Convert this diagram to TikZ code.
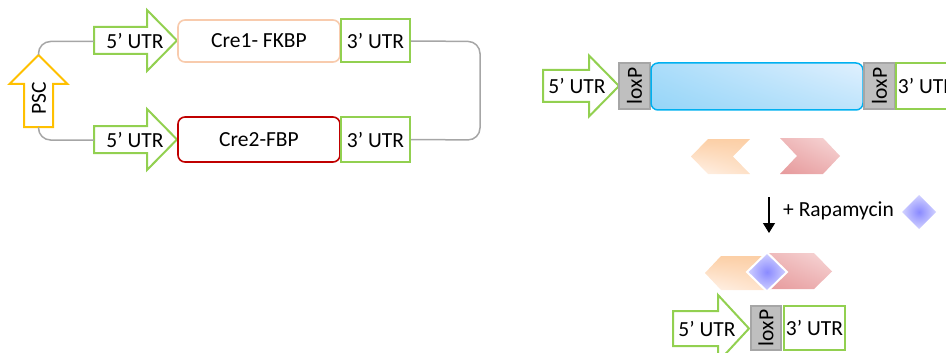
\documentclass[tikz,border=0pt]{standalone}
\usepackage{fontspec}
\setmainfont{Carlito}
\usetikzlibrary{arrows.meta,shadings}
\definecolor{utrgreen}{HTML}{92D050}
\definecolor{pscgold}{HTML}{FFC000}
\definecolor{creone}{HTML}{F8CBAD}
\definecolor{cretwo}{HTML}{C00000}
\definecolor{glinec}{HTML}{A6A6A6}
\definecolor{loxfill}{HTML}{BFBFBF}
\definecolor{loxdraw}{HTML}{A6A6A6}
\definecolor{cdsblue}{HTML}{00B0F0}
\definecolor{cdsdark}{HTML}{95D5F8}
\definecolor{cdslight}{HTML}{E0F0FE}
\definecolor{oradark}{HTML}{FCCFA6}
\definecolor{oralight}{HTML}{FFF3EA}
\definecolor{reddark}{HTML}{E6999B}
\definecolor{redlight}{HTML}{F7D8D8}
\definecolor{diain}{HTML}{8A8AFF}
\definecolor{diaout}{HTML}{D2D2FF}
\begin{document}
\begin{tikzpicture}[x=1pt,y=-1pt,
  font=\fontsize{21.5}{24}\selectfont,
  utr/.style={draw=utrgreen, line width=2pt, fill=white},
  utrbox/.style={draw=utrgreen, line width=2pt, fill=white, inner sep=0pt},
  crebox/.style={line width=1.6pt, rounded corners=7pt, fill=white, inner sep=0pt},
  loxbox/.style={draw=loxdraw, fill=loxfill, line width=1.5pt, inner sep=0pt, minimum width=31pt},
  gline/.style={draw=glinec, line width=1.5pt, rounded corners=12pt},
  plain/.style={inner sep=0pt}]
\useasboundingbox (0,0) rectangle (946,353);
\clip (0,0) rectangle (946,353);

% ---------------- left construct ----------------
% PSC arrow
\draw[draw=pscgold, line width=2pt, fill=white]
  (24,127)--(24,84)--(9.5,84)--(38.5,55)--(67.5,84)--(53,84)--(53,127)--cycle;
\node[plain, rotate=90] (psc) at (39,98) {PSC};
\coordinate (psctip) at (38.5,55);
\coordinate (pscbot) at (38.5,127);

% top 5' UTR
\draw[utr] (94,27)--(147,27)--(147,10)--(177,40.5)--(147,71)--(147,54)--(94,54)--cycle;
\node[plain] (u5a) at (135,41) {5’ UTR};
\coordinate (u5aL) at (94,41.5);
% bottom 5' UTR
\draw[utr] (94,126)--(147,126)--(147,109)--(177,139.5)--(147,170)--(147,153)--(94,153)--cycle;
\node[plain] (u5b) at (135,140) {5’ UTR};
\coordinate (u5bL) at (94,140);

% CDS boxes
\node[crebox, draw=creone, minimum width=162pt, minimum height=42pt] (cre1) at (259,41) {Cre1- FKBP};
\node[crebox, draw=cretwo, minimum width=162pt, minimum height=45pt] (cre2) at (259,139.5) {Cre2-FBP};

% 3' UTR boxes
\node[utrbox, minimum width=69pt, minimum height=43pt] (u3a) at (375.5,41) {3’ UTR};
\node[utrbox, minimum width=69pt, minimum height=45pt] (u3b) at (375.5,139.5) {3’ UTR};

% grey backbone
\draw[gline] (u3a.east) -- (480,41.5) -- (480,140) -- (u3b.east);
\draw[gline] (u5aL) -- (38.5,41.5) -- (psctip);
\draw[gline] (pscbot) -- (38.5,140) -- (u5bL);

% ---------------- right construct ----------------
\draw[utr] (543,70)--(589,70)--(589,55.5)--(619,86)--(589,116.5)--(589,102)--(543,102)--cycle;
\node[plain] (u5r) at (577,86) {5’ UTR};
\node[loxbox, minimum height=46pt] (lox1) at (634.5,86) {};
\node[plain, rotate=90] at (lox1.center) {loxP};
\node[draw=cdsblue, line width=1.5pt, rounded corners=7pt, minimum width=212pt, minimum height=47pt,
      inner sep=0pt, lower left=cdsdark, upper left=cdsdark!70!cdslight,
      lower right=cdsdark!45!cdslight, upper right=cdslight] (cds) at (757,86.5) {};
\node[loxbox, minimum height=46pt] (lox2) at (879.5,86) {};
\node[plain, rotate=90] at (lox2.center) {loxP};
\node[utrbox, minimum width=61pt, minimum height=46pt] (u3r) at (926.5,86) {3’ UTR};

% split Cre halves
\shade[lower left=oralight, upper left=oradark, lower right=oradark!50!oralight, upper right=oradark]
  (691,156.5)--(708,139)--(750,139)--(733,156.5)--(750,174)--(708,174)--cycle;
\shade[lower left=reddark, upper left=reddark!50!redlight, lower right=reddark!60!redlight, upper right=redlight]
  (780,138)--(823,138)--(840,156)--(823,174)--(780,174)--(797,156)--cycle;

% arrow and rapamycin
\coordinate (arrS) at (769,197);
\coordinate (arrE) at (769,233);
\draw[line width=1.3pt, -{Triangle[width=12pt,length=10pt]}] (arrS) -- (arrE);
\node[plain, anchor=west] (rapa) at (783,211) {+ Rapamycin};
\shade[inner color=diain, outer color=diaout]
  (919,195)--(936,212)--(919,229)--(902,212)--cycle;

% dimerised Cre
\shade[lower left=oralight, upper left=oradark, lower right=oradark!50!oralight, upper right=oradark]
  (705,273)--(721,256)--(770,256)--(770,290)--(721,290)--cycle;
\shade[lower left=reddark, upper left=reddark!50!redlight, lower right=reddark!60!redlight, upper right=redlight]
  (765,253)--(814,253)--(832,271.5)--(814,289)--(765,289)--cycle;
\shadedraw[inner color=diain, outer color=diaout, draw=white, line width=2pt]
  (767,252.5)--(787,272)--(767,291.5)--(747,272)--cycle;

% recombined construct
\draw[utr] (673,311)--(718,311)--(718,295)--(749,328.5)--(718,362)--(718,346)--(673,346)--cycle;
\node[plain] (u5c) at (707,328.5) {5’ UTR};
\node[loxbox, minimum width=30pt, minimum height=44pt] (lox3) at (766,328) {};
\node[plain, rotate=90] at (lox3.center) {loxP};
\node[utrbox, minimum width=61pt, minimum height=44pt] (u3c) at (814.5,328) {3’ UTR};
\end{tikzpicture}
\end{document}
